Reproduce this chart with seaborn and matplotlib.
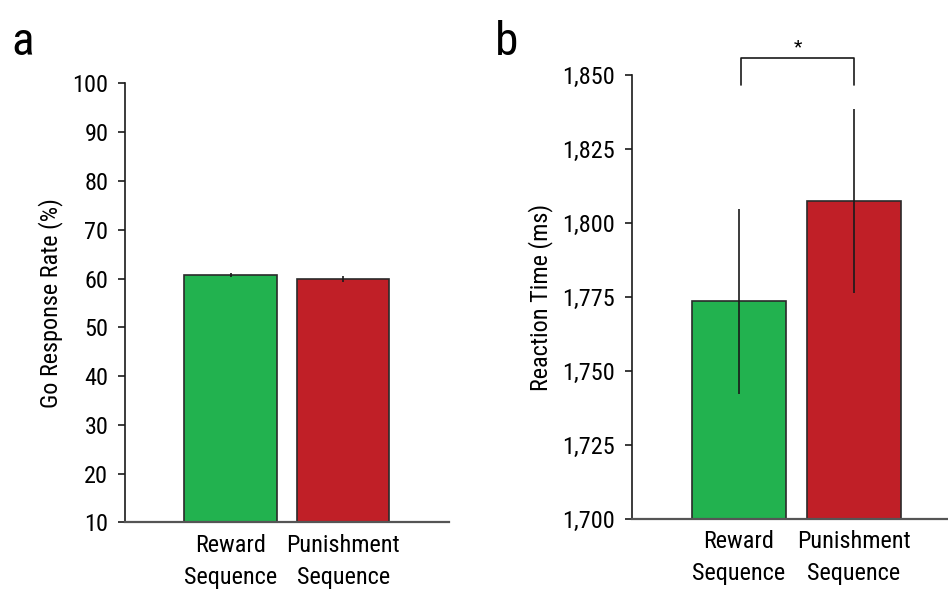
"""Go response rate and reaction time for reward vs punishment sequences"""

import matplotlib
matplotlib.use("Agg")
import matplotlib.pyplot as plt
from matplotlib.ticker import FuncFormatter
import seaborn as sns

# data
conditions = ["Reward\nSequence", "Punishment\nSequence"]
go_rate = [60.7, 60.0]
go_rate_err = [0.4, 0.6]
rt_ms = [1773.5, 1807.5]
rt_err = [31.3, 31.0]
a_ticks = [10, 20, 30, 40, 50, 60, 70, 80, 90, 100]
b_ticks = [1700, 1725, 1750, 1775, 1800, 1825, 1850]

bar_colors = ["#22b24f", "#c01f27"]

sns.set_style("white")
plt.rcParams['font.family'] = ['Roboto Condensed', 'Liberation Sans Narrow', 'Liberation Sans']
plt.rcParams['text.color'] = 'black'
plt.rcParams['axes.labelcolor'] = 'black'
plt.rcParams['xtick.color'] = 'black'
plt.rcParams['ytick.color'] = 'black'
fs = 17.5

fig = plt.figure(figsize=(9.48, 5.93), dpi=100)
ax_a = fig.add_axes([0.1319, 0.1189, 0.3418, 0.7403])
ax_b = fig.add_axes([0.6667, 0.1248, 0.3333, 0.7487])


def draw_panel(ax, vals, errs, ylab, ticks):
    sns.barplot(x=conditions, y=vals, hue=conditions, palette=bar_colors, legend=False,
                width=0.82, edgecolor="#2a2a2a", linewidth=1.2, saturation=1, ax=ax)
    ax.errorbar(range(len(vals)), vals, yerr=errs, fmt="none", ecolor="#1a1a1a",
                elinewidth=1.2, capsize=0)
    ax.set_ylim(ticks[0], ticks[-1])
    ax.set_yticks(ticks)
    ax.set_ylabel(ylab, fontsize=fs, labelpad=7)
    ax.set_xlabel("")
    ax.tick_params(axis="y", labelsize=fs, length=5, width=1.2, color="#1a1a1a",
                   direction="out", left=True, pad=7)
    ax.tick_params(axis="x", labelsize=fs, length=0, pad=8)
    for lab in ax.get_xticklabels():
        lab.set_linespacing(1.5)
    sns.despine(ax=ax, top=True, right=True)
    ax.spines["left"].set_color("#1a1a1a")
    ax.spines["left"].set_linewidth(1.2)
    ax.spines["bottom"].set_color("#555555")
    ax.spines["bottom"].set_linewidth(1.6)


draw_panel(ax_a, go_rate, go_rate_err, "Go Response Rate (%)", a_ticks)
ax_a.set_xlim(-0.938, 1.94)

draw_panel(ax_b, rt_ms, rt_err, "Reaction Time (ms)", b_ticks)
ax_b.set_xlim(-0.93, 1.82)
ax_b.yaxis.set_major_formatter(FuncFormatter(lambda v, p: f"{v:,.0f}"))

# significance bracket
ax_b.plot([0.02, 0.02, 1.0, 1.0], [1846.5, 1855.8, 1855.8, 1846.5], color="#1a1a1a",
          lw=1.2, clip_on=False)
ax_b.text(0.51, 1856.3, "*", ha="center", va="bottom", fontsize=14, clip_on=False)

fig.text(0.012, 0.93, "a", fontsize=34, va="center", ha="left")
fig.text(0.522, 0.93, "b", fontsize=34, va="center", ha="left")

fig.savefig("out.png", dpi=100)
